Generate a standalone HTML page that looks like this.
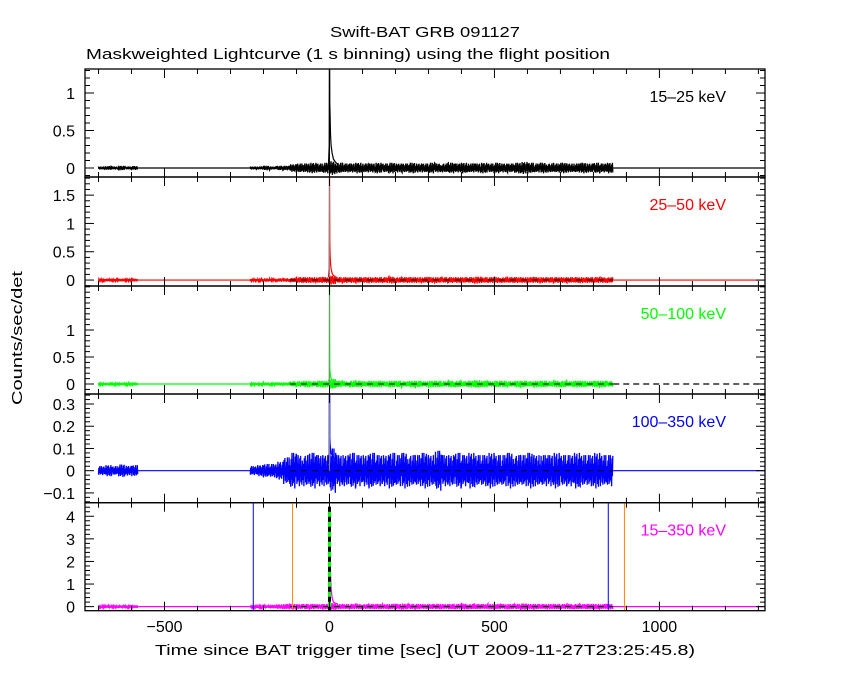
<!DOCTYPE html>
<html><head><meta charset="utf-8"><style>
body{margin:0;background:#fff;}
svg{display:block;font-family:"Liberation Sans",sans-serif;}
</style></head><body>
<svg id="chart" width="850" height="680" xmlns="http://www.w3.org/2000/svg">
<rect width="850" height="680" fill="#fff"/>
<text x="330" y="37" font-size="15" textLength="190" lengthAdjust="spacingAndGlyphs">Swift-BAT GRB 091127</text>
<text x="86" y="59" font-size="15" textLength="524" lengthAdjust="spacingAndGlyphs">Maskweighted Lightcurve (1 s binning) using the flight position</text>
<text x="0" y="0" font-size="15" text-anchor="middle" textLength="134" lengthAdjust="spacingAndGlyphs" transform="translate(22,338) rotate(-90)">Counts/sec/det</text>
<text x="155" y="655" font-size="15" textLength="540" lengthAdjust="spacingAndGlyphs">Time since BAT trigger time [sec] (UT 2009-11-27T23:25:45.8)</text>
<g id="plots"></g>
</svg>
<script>
const tPre = [-700,-680,-660,-640,-620,-600];
const tPost = [-240,-220,-200,-180,-160,-140,-120,-100,-80,-60,-40,-20,0,20,40,60,80,100,120,140,160,180,200,220,240,260,280,300,320,340,360,380,400,420,440,460,480,500,520,540,560,580,600,620,640,660,680,700,720,740,760,780,800,820,840];
const xTicks = [-500,0,500,1000];
const bandLabels = ["15\u201325 keV","25\u201350 keV","50\u2013100 keV","100\u2013350 keV","15\u2013350 keV"];
const bandColors = ["#000","#f00","#0f0","#00f","#f0f"];
const yRanges = [[-0.12,1.32],[-0.105,1.82],[-0.185,1.815],[-0.144,0.345],[-0.18,4.6]];
const yTickVals = [[0,0.5,1],[0,0.5,1,1.5],[0,0.5,1],[-0.1,0,0.1,0.2,0.3],[0,1,2,3,4]];
const yMinor = [0.1,0.1,0.1,0.02,0.2];
const ampPre = [[0.02,0.025,0.02,0.03,0.02,0.025],[0.02,0.025,0.02,0.025,0.02,0.025],[0.02,0.025,0.02,0.025,0.02,0.025],[0.02,0.025,0.02,0.028,0.022,0.025],[0.05,0.06,0.05,0.06,0.05,0.06]];
const ampPost0 = [0.02,0.02,0.03,0.02,0.03,0.03,0.05,0.06,0.06,0.07,0.06,0.07,0.09,0.07,0.06,0.06,0.07,0.06,0.06,0.07,0.06,0.07,0.06,0.06,0.07,0.06,0.06,0.07,0.06,0.06,0.07,0.06,0.07,0.06,0.06,0.07,0.06,0.07,0.06,0.06,0.07,0.08,0.07,0.06,0.07,0.06,0.06,0.07,0.06,0.06,0.07,0.06,0.07,0.06,0.07];
const ampPost1 = [0.02,0.02,0.03,0.02,0.03,0.03,0.04,0.05,0.05,0.05,0.05,0.05,0.08,0.05,0.05,0.05,0.05,0.05,0.05,0.05,0.05,0.06,0.05,0.05,0.05,0.05,0.05,0.05,0.05,0.05,0.05,0.05,0.05,0.05,0.06,0.05,0.05,0.05,0.05,0.05,0.05,0.05,0.05,0.05,0.05,0.05,0.05,0.05,0.05,0.05,0.05,0.05,0.05,0.05,0.05];
const ampPost2 = [0.02,0.02,0.03,0.02,0.03,0.03,0.05,0.05,0.06,0.05,0.06,0.06,0.09,0.06,0.05,0.06,0.06,0.05,0.06,0.06,0.05,0.06,0.06,0.05,0.06,0.06,0.05,0.06,0.06,0.05,0.06,0.06,0.05,0.06,0.07,0.06,0.05,0.06,0.06,0.05,0.06,0.06,0.05,0.06,0.06,0.05,0.06,0.06,0.05,0.06,0.06,0.05,0.06,0.06,0.05];
const ampPost3 = [0.02,0.025,0.03,0.03,0.04,0.06,0.08,0.07,0.07,0.08,0.07,0.07,0.1,0.07,0.07,0.08,0.07,0.07,0.08,0.07,0.07,0.08,0.07,0.08,0.07,0.07,0.08,0.07,0.09,0.07,0.07,0.08,0.07,0.08,0.07,0.07,0.08,0.07,0.07,0.08,0.07,0.07,0.08,0.07,0.07,0.07,0.08,0.07,0.07,0.08,0.07,0.07,0.08,0.07,0.07];
const ampPost4 = [0.05,0.05,0.06,0.08,0.1,0.12,0.12,0.11,0.12,0.12,0.11,0.12,0.15,0.12,0.11,0.12,0.12,0.11,0.12,0.12,0.11,0.12,0.12,0.13,0.12,0.12,0.11,0.12,0.12,0.11,0.12,0.12,0.13,0.12,0.12,0.11,0.12,0.12,0.11,0.12,0.12,0.14,0.12,0.12,0.11,0.12,0.12,0.11,0.12,0.12,0.11,0.12,0.12,0.11,0.12];
const ampPost = [ampPost0,ampPost1,ampPost2,ampPost3,ampPost4];
const peakT = [-3,-1,0,1,2,3,5,8,12,18,25];
const peakV = [[0.05,0.3,2,0.85,0.7,0.45,0.3,0.2,0.12,0.08,0.05],[0.05,0.2,2,0.65,0.45,0.3,0.2,0.12,0.08,0.05,0.04],[0.05,0.1,2,0.3,0.22,0.15,0.1,0.08,0.06,0.05,0.04],[0.03,0.08,1,0.15,0.12,0.1,0.08,0.07,0.06,0.05,0.05],[0.1,1,4.5,3.5,2.5,1.5,0.8,0.4,0.2,0.15,0.12]];
const vLinesT = [-231,-112,845,894];
const vLinesC = ["#00f","#f80","#00f","#f80"];

const NS="http://www.w3.org/2000/svg";
const g=document.getElementById('plots');
const X0=85,X1=765,T0=-741,T1=1320;
const panelTop=[69,177,286,394,502.7], panelBot=[177,286,394,502.7,610.7];
const xs=t=>X0+(t-T0)/(T1-T0)*(X1-X0);
const wig=[1,-0.6,0.45,-1,0.8,-0.35,0.95,-0.75,0.3,-0.9,0.65,-0.5,1,-0.85,0.4,-0.7];
function mk(tag,attrs,parent){const e=document.createElementNS(NS,tag);for(const k in attrs)e.setAttribute(k,attrs[k]);(parent||g).appendChild(e);return e;}
function fmt(v){return (v<0?"\u2212":"")+String(Math.abs(Math.round(v*100)/100));}

for(let p=0;p<5;p++){
  const top=panelTop[p],bot=panelBot[p],[y0,y1]=yRanges[p];
  const ys=v=>bot-(v-y0)/(y1-y0)*(bot-top);
  const pg=mk('g',{});
  
  
  const cid='clip'+p;
  const cp=mk('clipPath',{id:cid},pg);mk('rect',{x:X0,y:top,width:X1-X0,height:bot-top},cp);
  const dg=mk('g',{'clip-path':'url(#'+cid+')'},pg);
  const col=bandColors[p];
  const z=ys(0);
  const l1=mk('line',{x1:xs(-580),x2:xs(-240),y1:z,y2:z,stroke:col,'stroke-width':1.2},dg);
  
  const l2=mk('line',{x1:xs(860),x2:X1,y1:z,y2:z,stroke:p==2?'#000':col,'stroke-width':1.2,'stroke-dasharray':p==2?'6,4':'none'},dg);
  
  function zig(ts,amps,off){let d='';ts.forEach((t,i)=>{for(let k=0;k<16;k++){const tt=t+k*20/16;const a=amps[i]*wig[(k+i*5+off)%16];d+=(d?'L':'M')+xs(tt).toFixed(1)+','+ys(a).toFixed(1);}});return d;}
  const n1=mk('path',{d:zig(tPre,ampPre[p],p*3),stroke:col,fill:'none','stroke-width':1.3},dg);
  
  const n2=mk('path',{d:zig(tPost,ampPost[p],p*3),stroke:col,fill:'none','stroke-width':1.3},dg);
  
  mk('line',{x1:xs(-120),x2:xs(860),y1:z,y2:z,stroke:'#000','stroke-width':1,'stroke-dasharray':'6,5'},dg);
  let pd='';peakT.forEach((t,i)=>{pd+=(i?'L':'M')+xs(t).toFixed(1)+','+ys(peakV[p][i]).toFixed(1);});
  const pk=mk('path',{d:pd,stroke:col,fill:'none','stroke-width':1.2},dg);
  
  if(p<4){const sp=mk('line',{x1:xs(0),x2:xs(0),y1:top,y2:ys(0),stroke:p==0?'#000':'#888','stroke-width':1},dg);}
  if(p==4){
    vLinesT.forEach((t,i)=>{const v=mk('line',{x1:xs(t),x2:xs(t),y1:top,y2:bot,stroke:vLinesC[i],'stroke-width':1},dg);});
    const gd=mk('line',{x1:xs(0),x2:xs(0),y1:top+4,y2:bot,stroke:'#0f0','stroke-width':3},dg);
    mk('line',{x1:xs(0),x2:xs(0),y1:top+4,y2:bot,stroke:'#000','stroke-width':3,'stroke-dasharray':'5,5'},dg);
  }
  mk('rect',{x:X0,y:top,width:X1-X0,height:bot-top,fill:'none',stroke:'#000','stroke-width':1.3},pg);
  for(let t=-700;t<=1300;t+=100){const maj=t%500==0;const L=maj?9:5;const x=xs(t);
    mk('line',{x1:x,x2:x,y1:bot,y2:bot-L,stroke:'#000'},pg);mk('line',{x1:x,x2:x,y1:top,y2:top+L,stroke:'#000'},pg);}
  const mn=yMinor[p];for(let v=Math.ceil(y0/mn)*mn;v<=y1+1e-9;v+=mn){const vv=Math.round(v/mn)*mn;const maj=yTickVals[p].some(q=>Math.abs(q-vv)<1e-6);const L=maj?9:5;const y=ys(vv);
    mk('line',{x1:X0,x2:X0+L,y1:y,y2:y,stroke:'#000'},pg);mk('line',{x1:X1,x2:X1-L,y1:y,y2:y,stroke:'#000'},pg);}
  yTickVals[p].forEach(v=>{const tx=mk('text',{x:X0-10,y:ys(v)+6,'font-size':16,'text-anchor':'end'},pg);tx.textContent=fmt(v);});
  const bl=mk('text',{x:726,y:top+33,'font-size':16,'text-anchor':'end',fill:col},pg);bl.textContent=bandLabels[p];
  
  
}
xTicks.forEach(t=>{const tx=mk('text',{x:xs(t),y:632,'font-size':16,'text-anchor':'middle'});tx.textContent=fmt(t);
  
  });
</script>
</body></html>
